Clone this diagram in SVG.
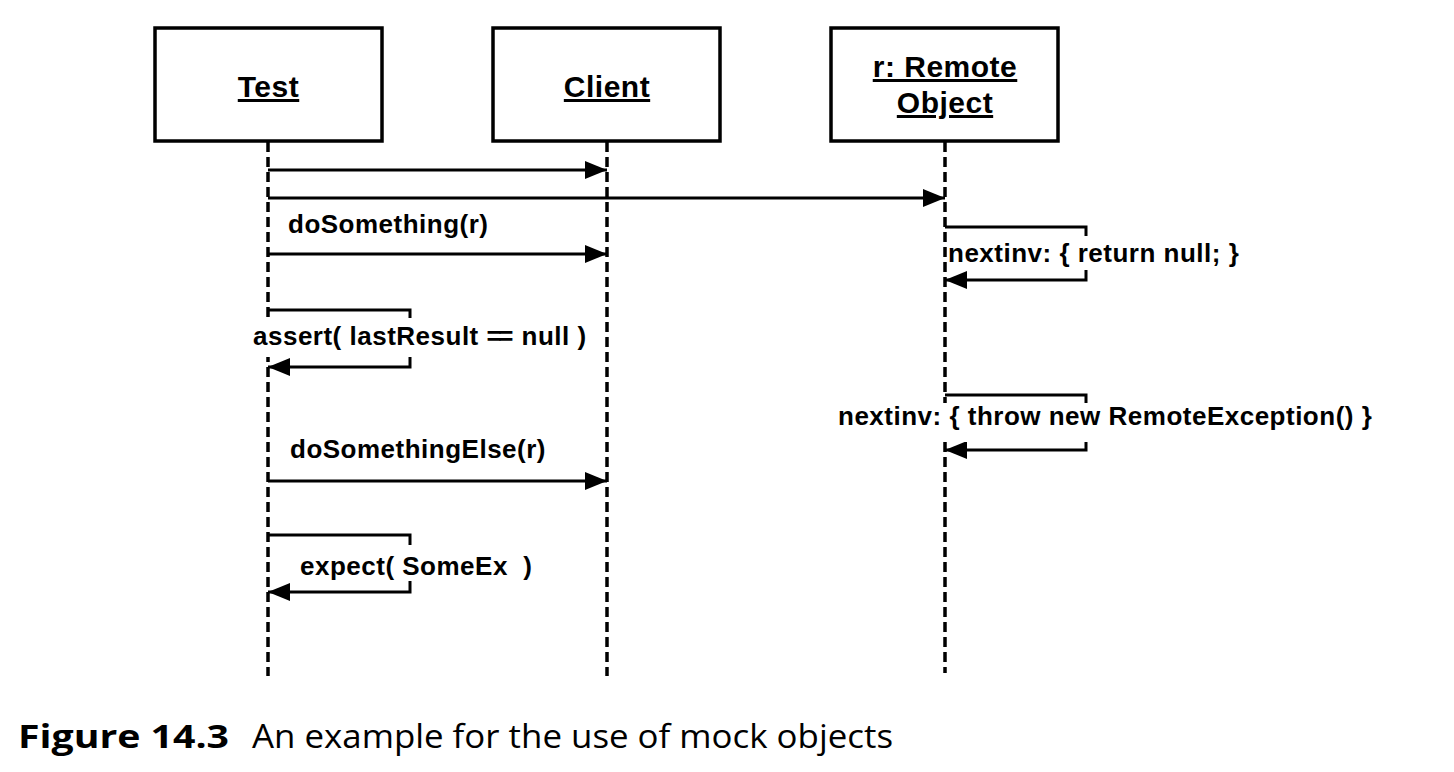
<svg xmlns="http://www.w3.org/2000/svg" width="1454" height="772" viewBox="0 0 1454 772">
  <style>
    .box { fill: #ffffff; stroke: #000000; stroke-width: 3.5; }
    .title { font-family: "Liberation Sans", Arial, Helvetica, sans-serif; font-weight: bold; font-size: 30px; letter-spacing: 0.5px; text-anchor: middle; text-decoration: underline; fill: #000000; }
    .life { fill: none; stroke: #000000; stroke-width: 3.5; stroke-dasharray: 10 5; }
    .msg { fill: none; stroke: #000000; stroke-width: 3; marker-end: url(#ah); }
    .lbl { font-family: "Liberation Sans", Arial, Helvetica, sans-serif; font-weight: bold; font-size: 26px; letter-spacing: 0.5px; fill: #000000; white-space: pre; }
    .bg { fill: #ffffff; stroke: none; }
    .capb { font-family: "Open Sans", "Noto Sans", sans-serif; font-weight: bold; font-size: 33px; fill: #000000; }
    .cap { font-family: "Open Sans", "Noto Sans", sans-serif; font-size: 33px; fill: #000000; }
  </style>
  <defs>
    <marker id="ah" markerUnits="userSpaceOnUse" markerWidth="22" markerHeight="18" refX="22" refY="9" orient="auto">
      <path d="M0,0 L22,9 L0,18 z" fill="#000000"/>
    </marker>
  </defs>
  <rect x="0" y="0" width="1454" height="772" fill="#ffffff"/>

  <g id="lifelines">
    <line class="life" x1="268" y1="142" x2="268" y2="676"/>
    <line class="life" x1="607" y1="142" x2="607" y2="676"/>
    <line class="life" x1="945" y1="142" x2="945" y2="673"/>
  </g>

  <g id="node-test">
    <rect class="box" x="155" y="28" width="227" height="113"/>
    <text class="title" x="268.5" y="97">Test</text>
  </g>
  <g id="node-client">
    <rect class="box" x="493" y="28" width="227" height="113"/>
    <text class="title" x="607" y="97">Client</text>
  </g>
  <g id="node-remote">
    <rect class="box" x="831" y="28" width="227" height="113"/>
    <text class="title" x="945" y="77">r: Remote</text>
    <text class="title" x="945" y="113">Object</text>
  </g>

  <g id="connectors">
    <path class="msg" d="M268,170 H607"/>
    <path class="msg" d="M268,198 H945"/>
    <path class="msg" d="M268,254 H607"/>
    <path class="msg" d="M945,227 H1086 V280 H945"/>
    <path class="msg" d="M268,310 H410 V367 H268"/>
    <path class="msg" d="M945,395 H1086 V450 H945"/>
    <path class="msg" d="M268,481 H607"/>
    <path class="msg" d="M268,535 H410 V592 H268"/>
  </g>

  <g id="labels">
    <text class="lbl" x="288" y="233">doSomething(r)</text>
    <rect class="bg" x="947" y="236" width="296" height="34"/>
    <text class="lbl" x="948" y="262">nextinv: { return null; }</text>
    <rect class="bg" x="250" y="318" width="341" height="39"/>
    <text class="lbl" x="253" y="345">assert( lastResult <tspan letter-spacing="-3.5">=</tspan>= null )</text>
    <rect class="bg" x="835" y="403" width="541" height="39"/>
    <text class="lbl" x="838" y="425">nextinv: { throw new RemoteException() }</text>
    <text class="lbl" x="290" y="458">doSomethingElse(r)</text>
    <rect class="bg" x="297" y="545" width="239" height="36"/>
    <text class="lbl" x="300" y="575">expect( SomeEx  )</text>
  </g>

  <g id="caption">
    <text class="capb" x="18" y="748" textLength="211" lengthAdjust="spacingAndGlyphs">Figure 14.3</text>
    <text class="cap" x="252" y="748" textLength="641" lengthAdjust="spacingAndGlyphs">An example for the use of mock objects</text>
  </g>
</svg>
